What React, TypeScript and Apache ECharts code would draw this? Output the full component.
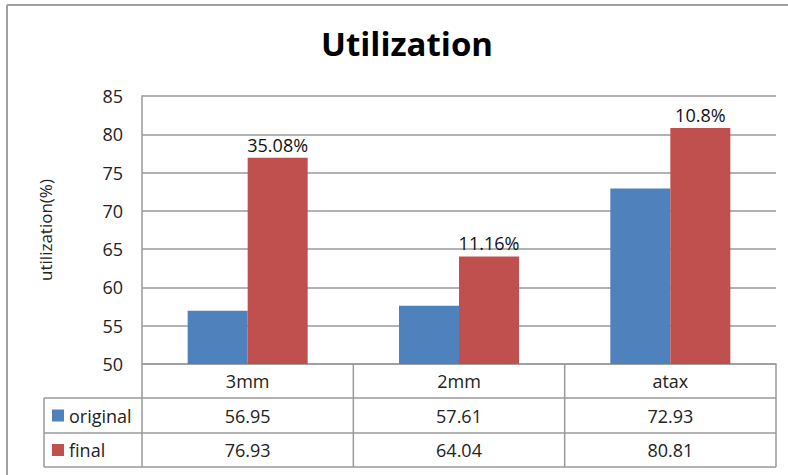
import React, { useEffect, useRef } from "react";
import * as echarts from "echarts";

const categories = ["3mm", "2mm", "atax"];
const originalValues = [56.95, 57.61, 72.93];
const finalValues = [76.93, 64.04, 80.81];
const increaseLabels = ["35.08%", "11.16%", "10.8%"];
const seriesNames = ["original", "final"];
const yMin = 50;
const yMax = 85;
const yStep = 5;

const W = 788;
const H = 475;
const GL = 142;
const GR = 776;
const GT = 96;
const GB = 364;
const ROW1 = 398;
const ROW2 = 433;
const ROW3 = 467;
const LEG_X = 44;
const BLUE = "#4F81BD";
const RED = "#C0504D";
const LINE = "#9a9a9a";
const FONT = "'Open Sans', 'Noto Sans', sans-serif";
const seriesColors = [BLUE, RED];

export default function App() {
  const ref = useRef<HTMLDivElement>(null);
  useEffect(() => {
    document.body.style.margin = "0";
    const chart = echarts.init(ref.current!, null, { renderer: "svg" });
    const colW = (GR - GL) / categories.length;
    const els: any[] = [];
    const addLine = (x1: number, y1: number, x2: number, y2: number, c = LINE, w = 1.5) =>
      els.push({
        type: "line",
        shape: { x1, y1, x2, y2 },
        style: { stroke: c, lineWidth: w },
        silent: true,
      });
    // outer frame
    addLine(7, 5, W, 5, "#a0a0a0", 2);
    addLine(7, 5, 7, H, "#a0a0a0", 2);
    // table lines
    for (let k = 0; k <= categories.length; k++) {
      const x = GL + k * colW;
      addLine(x, GB, x, ROW3);
    }
    addLine(LEG_X, ROW1, LEG_X, ROW3);
    [ROW1, ROW2, ROW3].forEach((y) => addLine(LEG_X, y, GR, y));
    // legend keys in table
    const rowMid = [(ROW1 + ROW2) / 2, (ROW2 + ROW3) / 2];
    seriesNames.forEach((n, i) => {
      els.push({
        type: "rect",
        shape: { x: 52, y: rowMid[i] - 6, width: 12, height: 12 },
        style: { fill: seriesColors[i] },
        silent: true,
      });
      els.push({
        type: "text",
        x: 69,
        y: rowMid[i],
        style: {
          text: n,
          fontSize: 18,
          fontFamily: FONT,
          fill: "#222",
          verticalAlign: "middle",
          align: "left",
        },
        silent: true,
      });
    });

    const fmt = (v: number) => v.toFixed(2);
    const valueAxis = (data: string[], offset: number) => ({
      type: "category",
      data,
      position: "bottom",
      offset,
      axisLine: { show: false },
      axisTick: { show: false },
      axisLabel: { fontSize: 18, color: "#222", fontFamily: FONT, margin: 8 },
    });

    chart.setOption({
      animation: false,
      backgroundColor: "#fff",
      textStyle: { fontFamily: FONT },
      title: {
        text: "Utilization",
        left: 402,
        textAlign: "center",
        top: 22,
        textStyle: { fontSize: 33, fontWeight: "bold", color: "#000", fontFamily: FONT },
      },
      grid: { left: GL, right: W - GR, top: GT, bottom: H - GB, containLabel: false },
      xAxis: [
        {
          type: "category",
          data: categories,
          axisLine: { show: true, lineStyle: { color: LINE, width: 1.5 } },
          axisTick: { show: false },
          axisLabel: { fontSize: 18, color: "#222", fontFamily: FONT, margin: 8 },
        },
        valueAxis(originalValues.map(fmt), 34.5),
        valueAxis(finalValues.map(fmt), 69),
      ],
      yAxis: {
        type: "value",
        min: yMin,
        max: yMax,
        interval: yStep,
        name: "utilization(%)",
        nameLocation: "middle",
        nameRotate: 90,
        nameGap: 88,
        nameTextStyle: { fontSize: 17, color: "#222", fontFamily: FONT, letterSpacing: 1 } as any,
        axisLine: { show: true, lineStyle: { color: LINE, width: 1.5 } },
        axisTick: { show: false },
        axisLabel: { fontSize: 18, color: "#222", fontFamily: FONT, margin: 19 },
        splitLine: { show: true, lineStyle: { color: LINE, width: 1.5 } },
      },
      series: [
        {
          name: seriesNames[0],
          type: "bar",
          data: originalValues,
          barWidth: 60,
          barGap: "0%",
          itemStyle: { color: BLUE },
        },
        {
          name: seriesNames[1],
          type: "bar",
          data: finalValues,
          barWidth: 60,
          barGap: "0%",
          itemStyle: { color: RED },
          label: {
            show: true,
            position: "top",
            distance: 4,
            fontSize: 18,
            color: "#111",
            fontFamily: FONT,
            formatter: (p: any) => increaseLabels[p.dataIndex],
          },
        },
      ],
      graphic: els,
    });
    return () => chart.dispose();
  }, []);
  return <div ref={ref} style={{ width: W, height: H }} />;
}
